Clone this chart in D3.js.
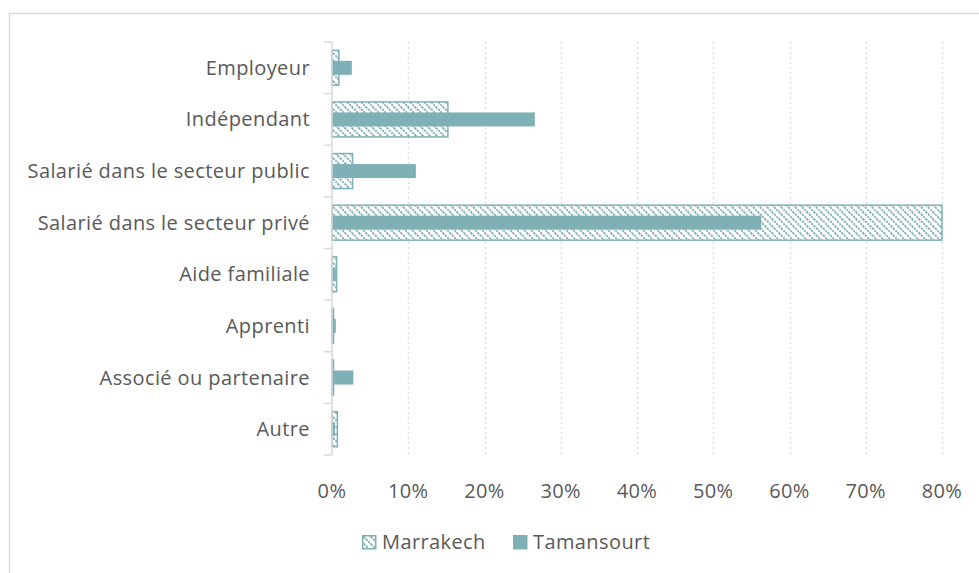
<!DOCTYPE html>
<html>
<head>
<meta charset="utf-8">
<script src="https://cdn.jsdelivr.net/npm/d3@7"></script>
<style>
  body { margin: 0; background: #fff; }
  text { font-family: 'Open Sans', sans-serif; fill: #595959; font-size: 20px; letter-spacing: 0.4px; }
</style>
</head>
<body>
<svg id="chart"></svg>
<script>
// données (%)
const categories = [
  'Employeur',
  'Indépendant',
  'Salarié dans le secteur public',
  'Salarié dans le secteur privé',
  'Aide familiale',
  'Apprenti',
  'Associé ou partenaire',
  'Autre',
];
const marrakech = [0.9, 15.2, 2.7, 80.0, 0.6, 0.2, 0.2, 0.7];
const tamansourt = [2.6, 26.6, 11.0, 56.3, 0.5, 0.5, 2.8, 0.4];
const xTicks = [0, 10, 20, 30, 40, 50, 60, 70, 80];
const seriesNames = ['Marrakech', 'Tamansourt'];

const W = 979,
  H = 573;
const color = '#7fb0b5';

const svg = d3.select('#chart').attr('width', W).attr('height', H);

// motif hachuré pour Marrakech (diagonales vers le bas)
const P = 7;
const pat = svg
  .append('defs')
  .append('pattern')
  .attr('id', 'hatch')
  .attr('patternUnits', 'userSpaceOnUse')
  .attr('width', P)
  .attr('height', P);
pat.append('rect').attr('width', P).attr('height', P).attr('fill', '#fff');
pat
  .append('path')
  .attr('d', `M-1,-1 L${P + 1},${P + 1} M-1,${P - 1} L1,${P + 1} M${P - 1},-1 L${P + 1},1`)
  .attr('stroke', color)
  .attr('stroke-width', 1.8)
  .attr('stroke-dasharray', '2.5,1');

// cadre du graphique
svg
  .append('rect')
  .attr('x', 9.5)
  .attr('y', 13.5)
  .attr('width', W)
  .attr('height', H)
  .attr('fill', 'none')
  .attr('stroke', '#d9d9d9')
  .attr('stroke-width', 1.5);

const x = d3.scaleLinear().domain([0, 80]).range([332, 942]);
const y = d3.scaleBand().domain(categories).range([42, 455]);

// grille pointillée
svg
  .append('g')
  .selectAll('line')
  .data(xTicks.slice(1))
  .join('line')
  .attr('x1', (d) => Math.round(x(d)) + 0.5)
  .attr('x2', (d) => Math.round(x(d)) + 0.5)
  .attr('y1', y.range()[0])
  .attr('y2', y.range()[1])
  .attr('stroke', '#dcdcdc')
  .attr('stroke-width', 1.5)
  .attr('stroke-dasharray', '2,3');

// barres Marrakech (larges, hachurées)
const bigH = 35,
  smallH = 14;
svg
  .append('g')
  .selectAll('rect')
  .data(marrakech)
  .join('rect')
  .attr('x', x(0))
  .attr('y', (d, i) => y(categories[i]) + y.bandwidth() / 2 - bigH / 2)
  .attr('width', (d) => x(d) - x(0))
  .attr('height', bigH)
  .attr('fill', 'url(#hatch)')
  .attr('stroke', color)
  .attr('stroke-width', 1.5);

// barres Tamansourt (étroites, pleines)
svg
  .append('g')
  .selectAll('rect')
  .data(tamansourt)
  .join('rect')
  .attr('x', x(0))
  .attr('y', (d, i) => y(categories[i]) + y.bandwidth() / 2 - smallH / 2)
  .attr('width', (d) => x(d) - x(0))
  .attr('height', smallH)
  .attr('fill', color);

// axe vertical
const yAxis = svg.append('g');
yAxis
  .append('line')
  .attr('x1', 332)
  .attr('x2', 332)
  .attr('y1', y.range()[0])
  .attr('y2', y.range()[1])
  .attr('stroke', '#d9d9d9')
  .attr('stroke-width', 1.5);
yAxis
  .selectAll('.tk')
  .data(categories.concat(['__end']))
  .join('line')
  .attr('class', 'tk')
  .attr('x1', 324)
  .attr('x2', 332)
  .attr('y1', (d, i) => y.range()[0] + i * y.step())
  .attr('y2', (d, i) => y.range()[0] + i * y.step())
  .attr('stroke', '#d9d9d9')
  .attr('stroke-width', 1.5);
yAxis
  .selectAll('text')
  .data(categories)
  .join('text')
  .attr('x', 310)
  .attr('y', (d) => y(d) + y.bandwidth() / 2)
  .attr('dy', '0.35em')
  .attr('text-anchor', 'end')
  .text((d) => d);

// étiquettes axe horizontal
svg
  .append('g')
  .selectAll('text')
  .data(xTicks)
  .join('text')
  .attr('x', (d) => x(d))
  .attr('y', 498)
  .attr('text-anchor', 'middle')
  .text((d) => d + '%');

// légende
const legend = svg.append('g');
const legendX = [362, 513];
seriesNames.forEach((name, i) => {
  const lg = legend.append('g').attr('transform', `translate(${legendX[i]},535)`);
  lg.append('rect')
    .attr('x', 0.75)
    .attr('y', 0.75)
    .attr('width', 13)
    .attr('height', 13)
    .attr('fill', i === 0 ? 'url(#hatch)' : color)
    .attr('stroke', color)
    .attr('stroke-width', 1.5);
  lg.append('text')
    .attr('x', 20)
    .attr('y', 14)
    .text(name);
});
</script>
</body>
</html>
